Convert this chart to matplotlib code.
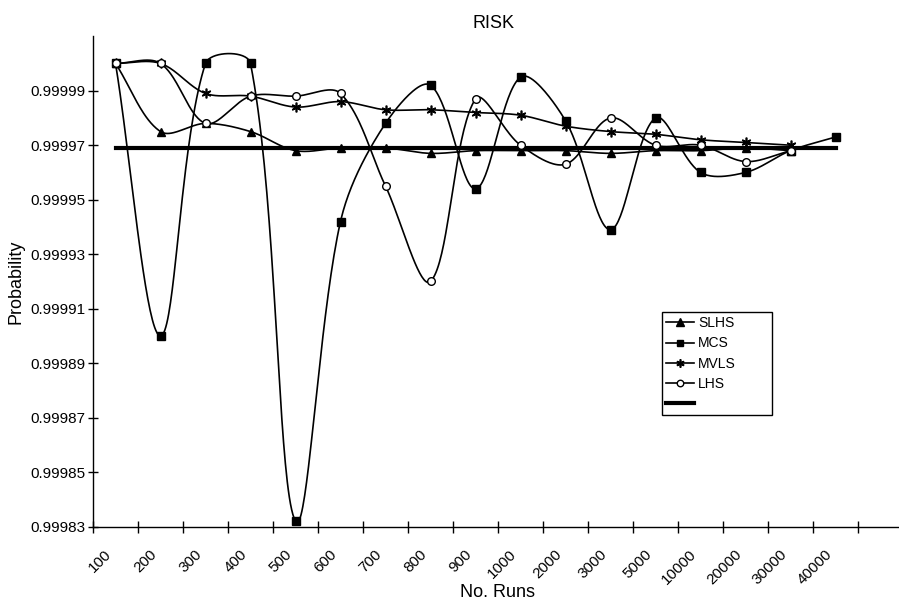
import numpy as np
import matplotlib
matplotlib.use("Agg")
import matplotlib.pyplot as plt
import matplotlib.transforms as mtransforms
from matplotlib.ticker import FixedLocator, FormatStrFormatter

plt.rcParams['font.family'] = ['Liberation Sans', 'DejaVu Sans']

# Data
runs = ['100', '200', '300', '400', '500', '600', '700', '800', '900', '1000',
        '2000', '3000', '5000', '10000', '20000', '30000', '40000']
slhs = [1.0, 0.999975, 0.999978, 0.999975, 0.999968, 0.999969, 0.999969, 0.999967,
        0.999968, 0.999968, 0.999968, 0.999967, 0.999968, 0.999968, 0.999969, 0.999968]
mcs = [1.0, 0.99990, 1.0, 1.0, 0.999832, 0.999942, 0.999978, 0.999992, 0.999954,
       0.999995, 0.999979, 0.999939, 0.999980, 0.999960, 0.999960, 0.999968, 0.999973]
mvls = [1.0, 1.0, 0.999989, 0.999988, 0.999984, 0.999986, 0.999983, 0.999983,
        0.999982, 0.999981, 0.999977, 0.999975, 0.999974, 0.999972, 0.999971, 0.999970]
lhs = [1.0, 1.0, 0.999978, 0.999988, 0.999988, 0.999989, 0.999955, 0.999920,
       0.999987, 0.999970, 0.999963, 0.999980, 0.999970, 0.999970, 0.999964, 0.999968]
ref_value = 0.999969

fig = plt.figure(figsize=(8.99, 6.01), dpi=100)
W, H = 899, 601
ax = fig.add_axes([93 / W, (H - 526.7) / H, 810 / W, 490.5 / H])
ax.set_xlim(-0.5, 17.5)
ax.set_ylim(0.99983, 1.00001)

# pixels per data unit, used to smooth the curves in screen space (Excel-like)
sx = 810 / 18.0
sy = 490.5 / (1.00001 - 0.99983)


def smooth(ys, n=40):
    xs = np.arange(len(ys), dtype=float)
    P = np.column_stack([xs * sx, (np.array(ys) - 0.99983) * sy])
    out = []
    m = len(P)
    for i in range(m - 1):
        p0 = P[i - 1] if i > 0 else P[i]
        p1, p2 = P[i], P[i + 1]
        p3 = P[i + 2] if i + 2 < m else P[i + 1]
        d01 = np.linalg.norm(p1 - p0)
        d12 = np.linalg.norm(p2 - p1)
        d23 = np.linalg.norm(p3 - p2)
        c1 = p1 + (p2 - p0) * d12 / (d01 + d12) / 3
        c2 = p2 - (p3 - p1) * d12 / (d12 + d23) / 3
        t = np.linspace(0, 1, n)[:, None]
        seg = ((1 - t) ** 3 * p1 + 3 * (1 - t) ** 2 * t * c1
               + 3 * (1 - t) * t ** 2 * c2 + t ** 3 * p2)
        out.append(seg if i == 0 else seg[1:])
    pts = np.vstack(out)
    return pts[:, 0] / sx, pts[:, 1] / sy + 0.99983


series = [
    ('SLHS', slhs, dict(marker='^', markersize=6, markerfacecolor='black')),
    ('MCS', mcs, dict(marker='s', markersize=5.5, markerfacecolor='black')),
    ('MVLS', mvls, dict(marker=(6, 2, 0), markersize=7, markeredgewidth=1.2)),
    ('LHS', lhs, dict(marker='o', markersize=5.5, markerfacecolor='white')),
]

handles = []
for name, ys, mk in series:
    cx, cy = smooth(ys)
    ax.plot(cx, cy, color='black', lw=1.2, zorder=3)
    ax.plot(np.arange(len(ys)), ys, linestyle='none', color='black',
            markeredgecolor='black', zorder=4, **mk)
    h, = ax.plot([], [], color='black', lw=1.2, markeredgecolor='black', **mk)
    handles.append(h)

ref_x = np.arange(len(runs))
ax.plot(ref_x, [ref_value] * len(runs), color='black', lw=3.0, zorder=2)
h, = ax.plot([], [], color='black', lw=3.0)
handles.append(h)

leg = ax.legend(handles, ['SLHS', 'MCS', 'MVLS', 'LHS', ' ' * 18], loc='upper left',
                bbox_to_anchor=(0.7025, 0.4377), borderaxespad=0, fontsize=10,
                numpoints=1, handlelength=2.0, handletextpad=0.3,
                labelspacing=0.45, fancybox=False, framealpha=1,
                edgecolor='black', borderpad=0.3, markerscale=0.85)
leg.get_frame().set_linewidth(1.0)

ax.spines['top'].set_visible(False)
ax.spines['right'].set_visible(False)
ax.spines['left'].set_linewidth(1.0)
ax.spines['bottom'].set_linewidth(1.0)

ax.set_yticks(np.arange(0.99983, 0.999995, 0.00002))
ax.yaxis.set_major_formatter(FormatStrFormatter('%.5f'))
ax.tick_params(axis='y', direction='inout', length=7, width=1, labelsize=11, pad=2)

ax.set_xticks(np.arange(len(runs)))
ax.set_xticklabels(runs, rotation=45, ha='right', rotation_mode='anchor')
ax.xaxis.set_minor_locator(FixedLocator(np.arange(-0.5, 17.0, 1.0)))
ax.tick_params(axis='x', which='major', length=0, labelsize=11, pad=16)
ax.tick_params(axis='x', which='minor', direction='inout', length=9, width=1)
shift = mtransforms.ScaledTranslation(-11 / 100, 2 / 100, fig.dpi_scale_trans)
for lab in ax.get_xticklabels():
    lab.set_transform(lab.get_transform() + shift)

ax.set_xlabel('No. Runs', fontsize=13, labelpad=-2)
ax.set_ylabel('Probability', fontsize=13, labelpad=4)
ax.set_title('RISK', fontsize=13, pad=6, x=0.494)

fig.savefig('out.png', dpi=100)
